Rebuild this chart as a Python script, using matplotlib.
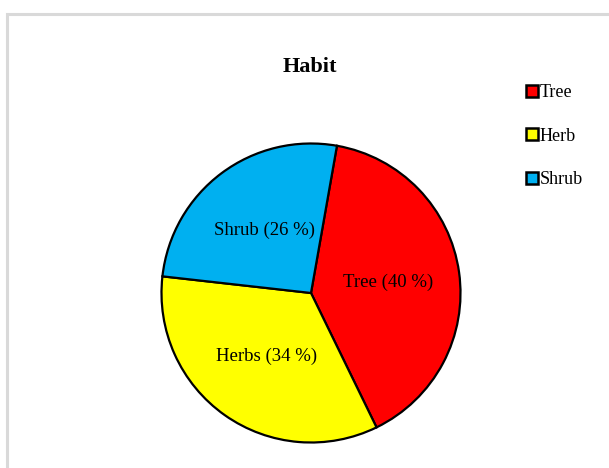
import matplotlib
matplotlib.use("Agg")
from matplotlib import pyplot as plt
from matplotlib.patches import Rectangle
from matplotlib.lines import Line2D

plt.rcParams['font.family'] = ['Liberation Serif', 'DejaVu Serif']

habits = ["Tree", "Herb", "Shrub"]
slice_labels = ["Tree (40 %)", "Herbs (34 %)", "Shrub (26 %)"]
shares = [40, 34, 26]
colours = ["#FF0000", "#FFFF00", "#00B0F0"]

W, H = 609, 468
fig = plt.figure(figsize=(W / 100, H / 100), dpi=100)

# light grey chart frame (runs off the right and bottom edges)
fig.patches.append(Rectangle((7 / W, -0.05), 1.1, 1 - 13.5 / H + 0.05,
                             transform=fig.transFigure, fill=False,
                             edgecolor="#D9D9D9", linewidth=2.2))

cx, cy, r = 311, 293, 151
ax = fig.add_axes([(cx - r) / W, (H - cy - r) / H, 2 * r / W, 2 * r / H])
wedges, texts = ax.pie(shares, colors=colours, startangle=80, counterclock=False,
                       labels=slice_labels, labeldistance=0.52,
                       wedgeprops=dict(edgecolor="black", linewidth=1.6),
                       textprops=dict(fontsize=13.5))
for t in texts:
    t.set_ha("center")
    t.set_va("center")
ax.set_xlim(-1.01, 1.01)
ax.set_ylim(-1.01, 1.01)
ax.set_aspect("equal")

fig.text(310 / W, 1 - 67 / H, "Habit", ha="center", va="center",
         fontsize=16, fontweight="bold")

handles = [Line2D([], [], linestyle="none", marker="s", markersize=8,
                  markerfacecolor=c, markeredgecolor="black", markeredgewidth=1.8)
           for c in colours]
fig.legend(handles, habits, loc="upper left", bbox_to_anchor=(518 / W, 1 - 75 / H),
           frameon=False, fontsize=13, handlelength=0.6, handletextpad=0.1,
           labelspacing=1.47, borderpad=0)

fig.savefig("out.png", dpi=100)
